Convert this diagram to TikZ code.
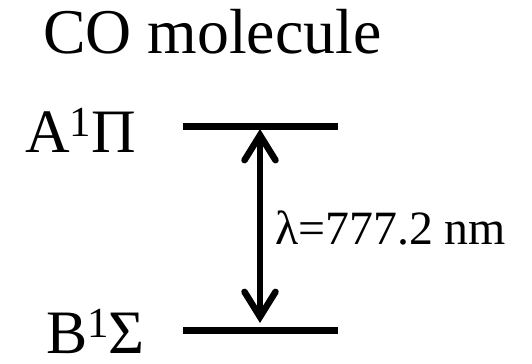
\documentclass[tikz,border=0pt]{standalone}
\usepackage{fontspec}
\setmainfont{Liberation Serif}
\usetikzlibrary{arrows.meta}

\tikzset{
    level/.style={line width=7bp},
    label/.style={anchor=base west, inner sep=0pt, text depth=0pt, font=\fontsize{62}{62}\selectfont},
    transition/.style={line width=6.5bp, {Straight Barb[length=25bp, width=31bp, line cap=round]}-{Straight Barb[length=25bp, width=31bp, line cap=round]}}
}

\newcommand{\supone}{\raisebox{16bp}{\fontsize{43}{43}\selectfont 1}}

\begin{document}
\begin{tikzpicture}[x=1bp, y=-1bp]
    \def\levelleft{183}
    \def\levelright{338}

    \useasboundingbox (0,0) rectangle (532,363);

    \coordinate (Aleft) at (\levelleft,126);
    \coordinate (Aright) at (\levelright,126);
    \coordinate (Bleft) at (\levelleft,330);
    \coordinate (Bright) at (\levelright,330);
    \coordinate (Atip) at (260,129);
    \coordinate (Btip) at (260,323);

    % Title
    \node[anchor=base west, inner sep=0pt, font=\fontsize{64}{64}\selectfont] (Title) at (43,53) {CO molecule};

    % Levels
    \draw[level] (Aleft) -- (Aright);
    \draw[level] (Bleft) -- (Bright);

    \node[label] (Alabel) at (25,152) {A\supone Π};
    \node[label] (Blabel) at (46,353) {B\supone Σ};

    % Transition
    \draw[transition] (Atip) -- (Btip);
    \node[anchor=base west, inner sep=0pt, font=\fontsize{48}{48}\selectfont] (Wavelength) at (275,244) {λ=777.2 nm};

\end{tikzpicture}
\end{document}
